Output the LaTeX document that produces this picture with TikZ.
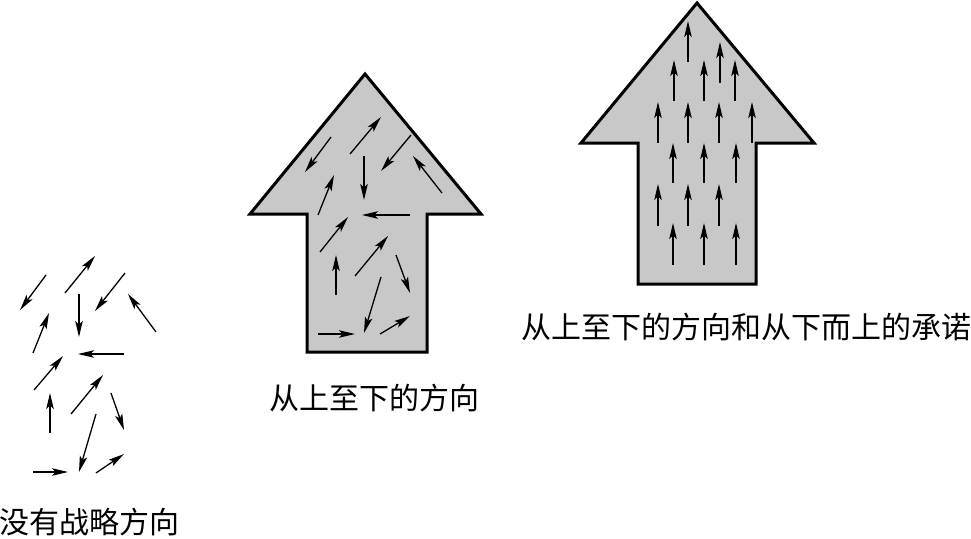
\documentclass[tikz,border=0pt]{standalone}
\usepackage{fontspec}
\newfontfamily\cjk{Noto Sans CJK SC}
\usetikzlibrary{arrows.meta}
\definecolor{arrowfill}{RGB}{200,200,200}
\tikzset{
  bigarrow/.style={draw=black, fill=arrowfill, line width=3pt, line join=miter},
  vec/.style={line width=1.3pt, -{Stealth[length=16pt,width=7.5pt,inset=3.5pt]}},
  lbl/.style={font=\cjk\fontsize{30}{33}\selectfont, inner sep=0pt}
}
\begin{document}
\begin{tikzpicture}[x=1pt,y=-1pt]
\useasboundingbox (0,0) rectangle (971,538);
% big arrows
\draw[bigarrow] (365,74) -- (250,214) -- (307,214) -- (307,352) -- (427,352) -- (427,214) -- (481,214) -- cycle;
\draw[bigarrow] (697,3) -- (581,143) -- (638,143) -- (638,284) -- (756,284) -- (756,143) -- (814,143) -- cycle;
% scattered arrows (no strategy)
\foreach \a/\b/\c/\d in {
 46/275/20/310, 65/293/95/256, 125/273/95/311, 79/294/79/337,
 156/332/128/294, 33/353/49/313, 124/354/78/354, 34/390/63/356,
 71/414/103/375, 111/393/124/430, 50/433/50/393, 96/414/79/472,
 33/472/68/472, 96/473/124/454}
 \draw[vec] (\a,\b) -- (\c,\d);
% middle arrow contents
\foreach \a/\b/\c/\d in {
 331/137/305/172, 350/154/381/117, 411/135/381/171, 364/156/364/200,
 442/193/413/156, 318/215/334/175, 410/215/362/215, 320/252/348/217,
 355/276/388/236, 336/295/336/255, 396/255/410/293, 381/277/364/333,
 318/334/355/334, 380/334/410/316}
 \draw[vec] (\a,\b) -- (\c,\d);
% right arrow contents (all upward)
\foreach \x/\yt/\yh in {
 688/62/21, 720/83/42,
 674/101/60, 704/101/60, 735/101/60,
 658/143/102, 688/143/102, 719/143/102, 752/143/102,
 673/183/143, 704/183/143, 736/183/143,
 658/226/184, 688/226/184, 719/226/184,
 673/265/223, 704/265/223, 736/265/223}
 \draw[vec] (\x,\yt) -- (\x,\yh);
% labels
\node[lbl] (l1) at (89,522) {没有战略方向};
\node[lbl] (l2) at (374,398) {从上至下的方向};
\node[lbl] (l3) at (746,327) {从上至下的方向和从下而上的承诺};
\end{tikzpicture}
\end{document}
